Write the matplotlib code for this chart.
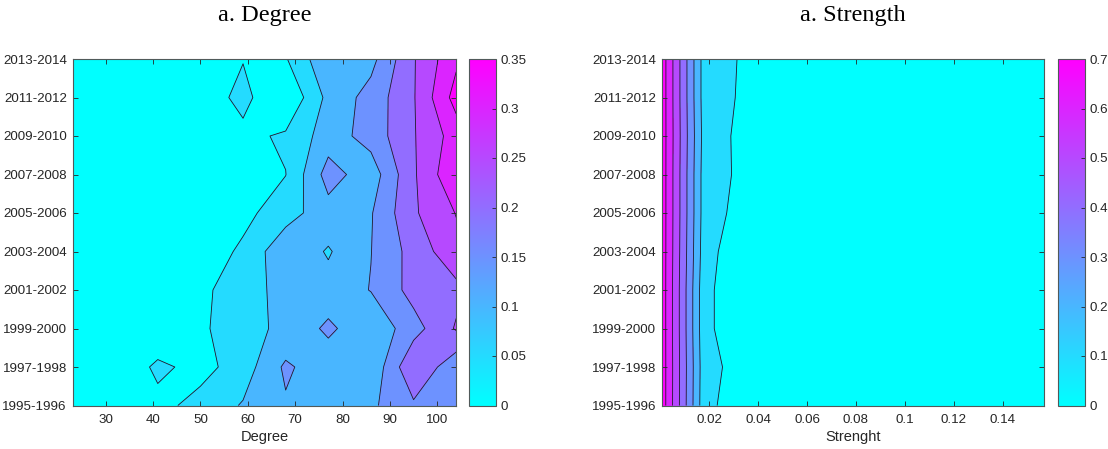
import numpy as np
import matplotlib
matplotlib.use("Agg")
import matplotlib.pyplot as plt
from matplotlib.colors import Normalize
from matplotlib.cm import ScalarMappable

# ---------------- data ----------------
periods = ["1995-1996", "1997-1998", "1999-2000", "2001-2002", "2003-2004",
           "2005-2006", "2007-2008", "2009-2010", "2011-2012", "2013-2014"]

degree_bins = [23, 32, 41, 50, 59, 68, 77, 86, 95, 104]
strength_bins = [0.0005, 0.0179, 0.0353, 0.0527, 0.0701, 0.0875, 0.1049, 0.1223, 0.1397, 0.1571]

# rows: periods (bottom -> top), columns: degree bins
degree_share = [
    [0.000, 0.005, 0.034, 0.068, 0.104, 0.144, 0.125, 0.141, 0.192, 0.180],
    [0.005, 0.000, 0.062, 0.032, 0.075, 0.159, 0.117, 0.110, 0.245, 0.165],
    [0.005, 0.010, 0.000, 0.039, 0.088, 0.108, 0.161, 0.110, 0.180, 0.255],
    [0.005, 0.008, 0.015, 0.045, 0.062, 0.130, 0.118, 0.152, 0.218, 0.236],
    [0.005, 0.008, 0.012, 0.020, 0.059, 0.138, 0.095, 0.149, 0.219, 0.285],
    [0.010, 0.012, 0.015, 0.025, 0.036, 0.078, 0.131, 0.146, 0.243, 0.302],
    [0.010, 0.012, 0.015, 0.020, 0.030, 0.049, 0.171, 0.122, 0.243, 0.344],
    [0.010, 0.012, 0.015, 0.025, 0.038, 0.057, 0.125, 0.170, 0.246, 0.323],
    [0.010, 0.012, 0.015, 0.022, 0.064, 0.003, 0.114, 0.169, 0.246, 0.370],
    [0.010, 0.015, 0.020, 0.030, 0.048, 0.046, 0.142, 0.134, 0.246, 0.340],
]

strength_share = [
    [0.760, 0.135, 0.020, 0.012, 0.008, 0.006, 0.004, 0.003, 0.002, 0.001],
    [0.760, 0.140, 0.047, 0.014, 0.009, 0.006, 0.004, 0.003, 0.002, 0.001],
    [0.760, 0.131, 0.000, 0.012, 0.008, 0.006, 0.004, 0.003, 0.002, 0.001],
    [0.760, 0.131, 0.000, 0.011, 0.008, 0.005, 0.004, 0.003, 0.002, 0.001],
    [0.760, 0.146, 0.007, 0.012, 0.008, 0.006, 0.004, 0.003, 0.002, 0.001],
    [0.760, 0.154, 0.052, 0.013, 0.009, 0.006, 0.004, 0.003, 0.002, 0.001],
    [0.760, 0.154, 0.070, 0.015, 0.010, 0.007, 0.005, 0.003, 0.002, 0.001],
    [0.760, 0.162, 0.063, 0.014, 0.009, 0.006, 0.004, 0.003, 0.002, 0.001],
    [0.760, 0.154, 0.080, 0.016, 0.010, 0.007, 0.005, 0.003, 0.002, 0.001],
    [0.760, 0.154, 0.084, 0.016, 0.010, 0.007, 0.005, 0.003, 0.002, 0.001],
]

degree_levels = [0, 0.05, 0.10, 0.15, 0.20, 0.25, 0.30, 0.35]
strength_levels = [0, 0.1, 0.2, 0.3, 0.4, 0.5, 0.6, 0.7]
degree_xticks = [30, 40, 50, 60, 70, 80, 90, 100]
strength_xticks = [0.02, 0.04, 0.06, 0.08, 0.10, 0.12, 0.14]
strength_xticklabels = ["0.02", "0.04", "0.06", "0.08", "0.1", "0.12", "0.14"]
degree_cbar_labels = ["0", "0.05", "0.1", "0.15", "0.2", "0.25", "0.3", "0.35"]
strength_cbar_labels = ["0", "0.1", "0.2", "0.3", "0.4", "0.5", "0.6", "0.7"]

# ---------------- figure ----------------
W, H = 1108, 449
fig = plt.figure(figsize=(W / 100, H / 100), dpi=100)
plt.rcParams["font.family"] = ["Liberation Sans", "DejaVu Sans"]

TXT = "#262626"
SP = "#505a5a"
TOP, BOT = 59.0, 405.5

def frac_rect(x0, x1):
    return [x0 / W, 1 - BOT / H, (x1 - x0) / W, (BOT - TOP) / H]

cmap = plt.get_cmap("cool")


def draw(ax, cax, xs, zrows, levels, xlabel, xticks, xticklabels, cbar_labels, title, xlim):
    X, Y = np.meshgrid(np.array(xs, dtype=float), np.arange(len(periods)))
    Z = np.array(zrows, dtype=float)
    vmax = levels[-1]
    fill_levels = list(levels) + [10.0]
    fill_colors = [cmap(l / vmax) for l in levels]
    ax.contourf(X, Y, Z, levels=fill_levels, colors=fill_colors)
    ax.contour(X, Y, Z, levels=levels[1:], colors="#1c1c2a", linewidths=0.6)
    ax.set_xlim(*xlim)
    ax.set_ylim(0, len(periods) - 1)
    ax.set_yticks(range(len(periods)))
    ax.set_yticklabels(periods)
    ax.set_xticks(xticks)
    ax.set_xticklabels(xticklabels)
    ax.tick_params(direction="in", top=True, right=True, length=3.5, width=0.6,
                   color=TXT, labelcolor=TXT, labelsize=9.6)
    ax.tick_params(axis="x", pad=6)
    ax.tick_params(axis="y", pad=4)
    ax.set_xlabel(xlabel, fontsize=10.5, color=TXT, labelpad=3)
    for s in ax.spines.values():
        s.set_color(SP)
        s.set_linewidth(0.8)

    sm = ScalarMappable(norm=Normalize(0, vmax), cmap=cmap)
    cb = fig.colorbar(sm, cax=cax)
    cb.set_ticks(levels)
    cb.set_ticklabels(cbar_labels)
    cax.tick_params(direction="in", length=3, width=0.6, color=TXT,
                    labelcolor=TXT, labelsize=9.6, pad=3)
    cb.outline.set_edgecolor(SP)
    cb.outline.set_linewidth(0.8)

    bb = ax.get_position()
    fig.text(bb.x0 + bb.width / 2, 1 - 21 / H, title, ha="center", va="baseline",
             fontsize=17.5, family=["Liberation Serif", "DejaVu Serif"], color="black")


ax1 = fig.add_axes(frac_rect(72.5, 456.2))
cax1 = fig.add_axes(frac_rect(469.0, 496.3))
ax2 = fig.add_axes(frac_rect(661.7, 1044.3))
cax2 = fig.add_axes(frac_rect(1058.3, 1085.0))

draw(ax1, cax1, degree_bins, degree_share, degree_levels, "Degree",
     degree_xticks, [str(t) for t in degree_xticks], degree_cbar_labels,
     "a. Degree", (degree_bins[0], degree_bins[-1]))
draw(ax2, cax2, strength_bins, strength_share, strength_levels, "Strenght",
     strength_xticks, strength_xticklabels, strength_cbar_labels,
     "a. Strength", (strength_bins[0], strength_bins[-1]))

fig.savefig("out.png", dpi=100, facecolor="white")
